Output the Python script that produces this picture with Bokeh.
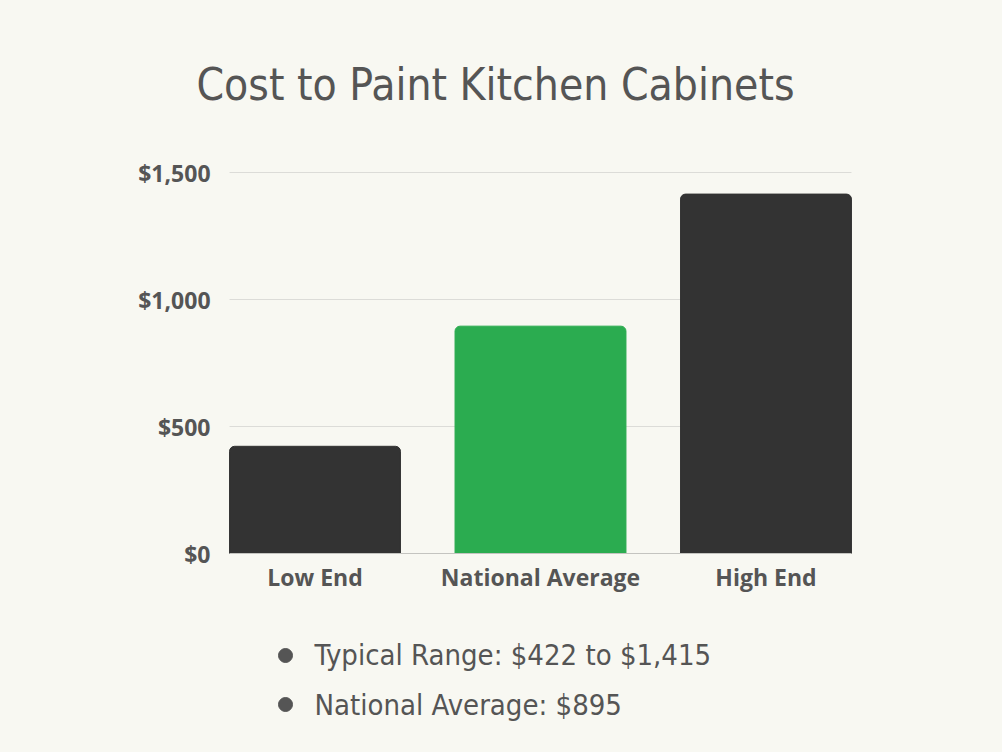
from bokeh.embed import file_html
from bokeh.models import FixedTicker, Label, LinearAxis, NumeralTickFormatter, Range1d
from bokeh.plotting import figure
from bokeh.resources import INLINE

categories = ["Low End", "National Average", "High End"]
costs = [422, 895, 1415]
bar_colors = ["#333333", "#2bac50", "#333333"]
y_ticks = [0, 500, 1000, 1500]

title_text = "Cost to Paint Kitchen Cabinets"
notes = ["Typical Range: $422 to $1,415", "National Average: $895"]

bg = "#f8f8f2"
text_color = "#555555"
narrow = "DejaVu Sans Condensed, Liberation Sans Narrow, sans-serif"

W, H = 986, 736
idx = list(range(len(categories)))
bar_w = 0.758


# the frame fills the whole canvas; these map canvas pixels to data units
def sx(px):
    return (px - 314.5) / 225.5


def sy(py):
    return (553 - py) * 1500 / 381.0


p = figure(width=W, height=H, x_range=Range1d(sx(0), sx(W)), y_range=Range1d(sy(H), sy(0)),
           x_axis_type=None, y_axis_type=None, output_backend="svg",
           toolbar_location=None, min_border=0)
p.background_fill_color = bg
p.border_fill_color = bg
p.outline_line_color = None

left_edge, right_edge = -bar_w / 2, idx[-1] + bar_w / 2

# grid lines, only as wide as the bars
p.segment(x0=left_edge, x1=right_edge, y0=y_ticks[1:], y1=y_ticks[1:],
          line_color="#dcdcd8", line_width=1)

p.vbar(x=idx, top=costs, bottom=0, width=bar_w, color=bar_colors,
       border_radius=(5, 5, 0, 0))

xaxis = LinearAxis(ticker=FixedTicker(ticks=idx),
                   major_label_overrides={i: c for i, c in zip(idx, categories)},
                   fixed_location=0, bounds=(left_edge, right_edge))
yaxis = LinearAxis(ticker=FixedTicker(ticks=y_ticks),
                   formatter=NumeralTickFormatter(format="$0,0"),
                   fixed_location=left_edge, bounds=(0, 1500))
xaxis.axis_line_color = "#c4c4c0"
xaxis.major_label_standoff = 1
yaxis.axis_line_color = None
yaxis.major_label_standoff = 13
for ax in (xaxis, yaxis):
    ax.major_tick_line_color = None
    ax.minor_tick_line_color = None
    ax.major_label_text_font = "Open Sans"
    ax.major_label_text_font_style = "bold"
    ax.major_label_text_font_size = "23px"
    ax.major_label_text_color = text_color
p.add_layout(xaxis, "below")
p.add_layout(yaxis, "left")

p.add_layout(Label(x=sx(495), y=sy(84), text=title_text, text_align="center",
                   text_baseline="alphabetic", text_font=narrow,
                   text_font_size="44px", text_color=text_color))

p.scatter(x=[sx(285)] * 2, y=[sy(655), sy(704)], size=14, color=text_color)
for i, note in enumerate(notes):
    p.add_layout(Label(x=sx(314), y=sy(654 + 50 * i), text=note, text_align="left",
                       text_baseline="alphabetic", text_font=narrow,
                       text_font_size="29px", text_color=text_color))

open("out.html", "w").write(file_html(
    p, INLINE,
    template="{% block preamble %}<style>body { background: #f8f8f2; }</style>{% endblock %}"))
